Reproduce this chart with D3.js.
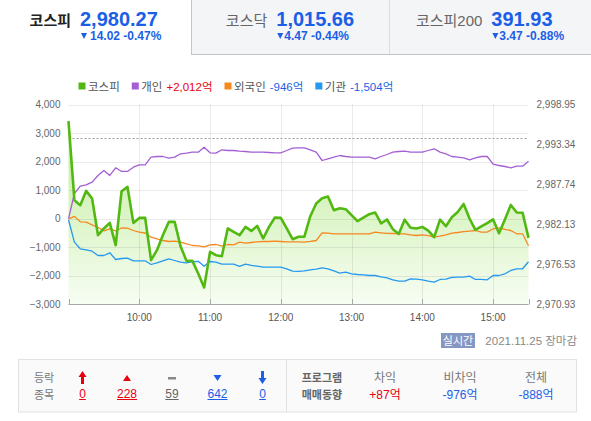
<!doctype html>
<html>
<head>
<meta charset="utf-8">
<title>코스피 투자자별 매매동향</title>
<style>
  body { margin: 0; overflow: hidden; background: #fff; }
  svg { display: block; font-family: "Liberation Sans", Arial, "Noto Sans CJK KR", sans-serif; }
</style>
</head>
<body>
<script src="https://cdn.jsdelivr.net/npm/d3@7"></script>
<script>
const width = 591, height = 421;

// index tabs
const tabNames = ["코스피", "코스닥", "코스피200"];
const tabValues = ["2,980.27", "1,015.66", "391.93"];
const tabChanges = ["14.02 -0.47%", "4.47 -0.44%", "3.47 -0.88%"];

// legend
const seriesNames = ["코스피", "개인", "외국인", "기관"];
const seriesTotals = ["", "+2,012억", "-946억", "-1,504억"];

// 5-minute points from 09:00 to 15:30
const kospi = [2996.61, 2985.54, 2984.84, 2986.85, 2985.78, 2980.64, 2981.58, 2982.36, 2979.24, 2986.80,
  2987.41, 2982.36, 2983.06, 2983.06, 2977.14, 2978.54, 2980.64, 2982.50, 2982.50, 2979.10,
  2977.04, 2977.04, 2975.28, 2973.31, 2978.30, 2977.84, 2977.70, 2981.58, 2981.10, 2980.64,
  2981.80, 2981.24, 2981.94, 2980.18, 2981.80, 2983.12, 2983.06, 2981.58, 2980.08, 2980.43,
  2980.43, 2983.30, 2985.08, 2985.82, 2986.06, 2984.14, 2984.42, 2984.28, 2983.44, 2982.60,
  2983.09, 2983.58, 2983.82, 2982.28, 2982.84, 2981.48, 2980.82, 2982.81, 2981.69, 2981.58,
  2981.80, 2981.27, 2980.36, 2982.81, 2981.90, 2983.16, 2983.90, 2985.02, 2982.98, 2981.38,
  2981.86, 2982.32, 2982.85, 2980.92, 2982.85, 2984.88, 2983.82, 2983.79, 2980.27];

const personal = [0, 885, 1141, 1190, 1281, 1516, 1691, 1516, 1785, 1656,
  1656, 1807, 1890, 1890, 2156, 2180, 2180, 2121, 2156, 2275,
  2296, 2331, 2331, 2506, 2310, 2296, 2415, 2390, 2390, 2366,
  2355, 2331, 2331, 2331, 2320, 2310, 2310, 2390, 2475, 2485,
  2485, 2415, 2331, 2040, 2100, 2156, 2215, 2180, 2156, 2156,
  2156, 2156, 2100, 2180, 2250, 2331, 2355, 2366, 2331, 2331,
  2331, 2390, 2450, 2331, 2275, 2180, 2156, 2135, 2065, 2135,
  2180, 2180, 1910, 1865, 1830, 1785, 1841, 1841, 2012];

const foreign = [0, 85, -105, -119, -210, -305, -420, -350, -420, -322,
  -329, -410, -469, -497, -644, -700, -760, -795, -784, -819,
  -875, -935, -945, -980, -910, -900, -959, -900, -910, -819,
  -854, -830, -805, -795, -795, -784, -795, -805, -805, -810,
  -815, -790, -760, -490, -504, -525, -525, -525, -525, -525,
  -525, -525, -469, -490, -510, -515, -525, -525, -560, -585,
  -560, -590, -644, -609, -560, -504, -480, -450, -430, -410,
  -469, -469, -350, -315, -374, -410, -525, -525, -946];

const institution = [-35, -819, -1050, -1085, -1134, -1285, -1285, -1190, -1425, -1390,
  -1379, -1470, -1470, -1470, -1600, -1540, -1470, -1400, -1460, -1519,
  -1540, -1500, -1490, -1665, -1495, -1519, -1590, -1590, -1590, -1665,
  -1590, -1634, -1659, -1690, -1690, -1690, -1690, -1750, -1830, -1840,
  -1820, -1785, -1760, -1715, -1750, -1820, -1900, -1869, -1925, -1950,
  -1960, -1985, -1985, -2030, -2065, -2140, -2184, -2184, -2105, -2114,
  -2135, -2184, -2219, -2124, -2114, -2054, -2044, -2044, -2009, -2124,
  -2124, -2135, -1985, -1985, -1925, -1809, -1750, -1750, -1504];

const prevClose = 2994.29;
const stepMinutes = 5;
const hourLabels = ["10:00", "11:00", "12:00", "13:00", "14:00", "15:00"];
const leftTicks = [4000, 3000, 2000, 1000, 0, -1000, -2000, -3000];
const rightTickLabels = ["2,998.95", "2,993.34", "2,987.74", "2,982.13", "2,976.53", "2,970.93"];

// bottom table
const breadthCounts = ["0", "228", "59", "642", "0"];
const programHeads = ["차익", "비차익", "전체"];
const programValues = ["+87억", "-976억", "-888억"];

const RED = "#e8000f", BLUE = "#1b5fe6";
const colors = ["#52b812", "#a35fd3", "#f6881f", "#2499ef"];

const svg = d3.select("body").append("svg")
    .attr("width", width)
    .attr("height", height);

// ---- tabs ----
const tabEdges = [0, 191, 389, 591];
const tabs = svg.append("g");
tabNames.forEach((name, i) => {
  const x0 = tabEdges[i], x1 = tabEdges[i + 1];
  const active = i === 0;
  const g = tabs.append("g");
  if (!active) {
    g.append("rect").attr("x", x0).attr("y", 0).attr("width", x1 - x0).attr("height", 54)
      .attr("fill", "#f4f5f7");
  }
  const label = g.append("text").attr("y", 26).attr("font-size", 15)
    .attr("font-weight", active ? "bold" : "normal")
    .attr("fill", active ? "#222" : "#666")
    .text(name);
  const val = g.append("text").attr("y", 26).attr("font-size", 20).attr("font-weight", "bold")
    .attr("fill", BLUE).text(tabValues[i]);
  const sub = g.append("text").attr("y", 40).attr("font-size", 12).attr("font-weight", "bold")
    .attr("fill", BLUE).text(tabChanges[i]);
  const lw = label.node().getComputedTextLength();
  const vw = val.node().getComputedTextLength();
  const sw = sub.node().getComputedTextLength() + (active ? 10 : 8);
  const cw = lw + 9 + Math.max(vw, sw);
  const lx = (x0 + x1) / 2 - cw / 2;
  const vx = lx + lw + 9;
  label.attr("x", lx);
  val.attr("x", vx);
  g.append("path")
    .attr("d", `M${vx + 1},33 h6 l-3,6 z`)
    .attr("fill", BLUE);
  sub.attr("x", vx + (active ? 10 : 8));
});
tabs.append("line").attr("x1", 191.5).attr("x2", 191.5).attr("y1", 0).attr("y2", 54)
  .attr("stroke", "#c4c4c4");
tabs.append("line").attr("x1", 389.5).attr("x2", 389.5).attr("y1", 0).attr("y2", 54)
  .attr("stroke", "#dcdcdc");
tabs.append("line").attr("x1", 191).attr("x2", 591).attr("y1", 54.5).attr("y2", 54.5)
  .attr("stroke", "#c4c4c4");

// ---- scales ----
const x = d3.scaleLinear().domain([0, 390]).range([68.5, 528.5]);
const yL = d3.scaleLinear().domain([-3000, 4000]).range([304.5, 104.5]);
const yR = d3.scaleLinear().domain([2970.93, 2998.95]).range([304.5, 104.5]);
const px = (d, i) => x(i * stepMinutes);
const hourMin = s => (+s.split(":")[0] - 9) * 60;

// ---- gradient ----
const grad = svg.append("defs").append("linearGradient")
  .attr("id", "kospiFill").attr("gradientUnits", "userSpaceOnUse")
  .attr("x1", 0).attr("x2", 0).attr("y1", yL(4000)).attr("y2", yL(-3000));
grad.append("stop").attr("offset", "0%").attr("stop-color", "#bbeb92");
grad.append("stop").attr("offset", "100%").attr("stop-color", "#f7fdf3");

const plot = svg.append("g");

plot.append("path")
  .datum(kospi)
  .attr("fill", "url(#kospiFill)")
  .attr("d", d3.area().x(px).y0(yL(-3000)).y1(d => yR(d)));

// grid
plot.append("g").selectAll("line").data(leftTicks.slice(0, -1)).join("line")
  .attr("x1", x(0)).attr("x2", x(390))
  .attr("y1", d => Math.round(yL(d)) + 0.5).attr("y2", d => Math.round(yL(d)) + 0.5)
  .attr("stroke", "rgba(0,0,0,0.08)");
plot.append("g").selectAll("line").data(hourLabels).join("line")
  .attr("x1", d => Math.round(x(hourMin(d))) + 0.5).attr("x2", d => Math.round(x(hourMin(d))) + 0.5)
  .attr("y1", yL(4000)).attr("y2", yL(-3000))
  .attr("stroke", "rgba(0,0,0,0.08)");

// previous close
plot.append("line")
  .attr("x1", x(0)).attr("x2", x(390))
  .attr("y1", Math.round(yR(prevClose)) + 0.5).attr("y2", Math.round(yR(prevClose)) + 0.5)
  .attr("stroke", "#a0a0a0").attr("stroke-dasharray", "2,2");

// bottom axis
plot.append("line").attr("x1", x(0)).attr("x2", x(390))
  .attr("y1", 304.5).attr("y2", 304.5).attr("stroke", "#a8a8a8");
plot.append("g").selectAll("line").data([0, ...hourLabels.map(hourMin), 390]).join("line")
  .attr("x1", d => Math.round(x(d)) + 0.5).attr("x2", d => Math.round(x(d)) + 0.5)
  .attr("y1", 299).attr("y2", 304.5).attr("stroke", "#a8a8a8");

// axis labels
plot.append("g").selectAll("text").data(leftTicks).join("text")
  .attr("x", 60.5).attr("y", d => yL(d) + 3.5)
  .attr("text-anchor", "end").attr("font-size", 10).attr("fill", "#666")
  .text(d => d3.format(",")(d));
plot.append("g").selectAll("text").data(rightTickLabels).join("text")
  .attr("x", 536.5).attr("y", d => yR(+d.replace(",", "")) + 3.5)
  .attr("font-size", 10).attr("fill", "#666")
  .text(d => d);
plot.append("g").selectAll("text").data(hourLabels).join("text")
  .attr("x", d => x(hourMin(d))).attr("y", 321)
  .attr("text-anchor", "middle").attr("font-size", 10).attr("fill", "#555")
  .text(d => d);

// investor lines
[personal, foreign, institution].forEach((s, k) => {
  plot.append("path").datum(s)
    .attr("fill", "none").attr("stroke", colors[k + 1]).attr("stroke-width", 1.3)
    .attr("stroke-linejoin", "round")
    .attr("d", d3.line().x(px).y(d => yL(d)));
});
plot.append("path").datum(kospi)
  .attr("fill", "none").attr("stroke", colors[0]).attr("stroke-width", 2.6)
  .attr("stroke-linejoin", "round")
  .attr("d", d3.line().x(px).y(d => yR(d)));

// ---- legend ----
const legend = svg.append("g").attr("font-size", 11.5);
let lx = 78.5;
seriesNames.forEach((name, i) => {
  legend.append("rect").attr("x", lx).attr("y", 82.5).attr("width", 7).attr("height", 7)
    .attr("fill", colors[i]);
  const t = legend.append("text").attr("x", lx + 9.5).attr("y", 90.5).attr("fill", "#555").text(name);
  lx += 9.5 + t.node().getComputedTextLength();
  if (seriesTotals[i]) {
    const v = legend.append("text").attr("x", lx + 4).attr("y", 90.5)
      .attr("fill", seriesTotals[i][0] === "+" ? RED : BLUE).text(seriesTotals[i]);
    lx += 4 + v.node().getComputedTextLength();
  }
  lx += 12;
});

// ---- status ----
svg.append("rect").attr("x", 441).attr("y", 333).attr("width", 34).attr("height", 15)
  .attr("fill", "#8797c3");
svg.append("text").attr("x", 458).attr("y", 344.5).attr("text-anchor", "middle")
  .attr("font-size", 11).attr("fill", "#fff").text("실시간");
svg.append("text").attr("x", 577).attr("y", 345).attr("text-anchor", "end")
  .attr("font-size", 11.5).attr("fill", "#888").text("2021.11.25 장마감");

// ---- bottom table ----
const tbl = svg.append("g").attr("font-size", 12);
tbl.append("rect").attr("x", 18.5).attr("y", 359.5).attr("width", 558).attr("height", 52.5)
  .attr("fill", "#fafafa").attr("stroke", "#e2e2e2");
tbl.append("line").attr("x1", 286.5).attr("x2", 286.5).attr("y1", 360).attr("y2", 412)
  .attr("stroke", "#e2e2e2");
tbl.append("text").attr("x", 44).attr("y", 382).attr("text-anchor", "middle")
  .attr("font-size", 11).attr("fill", "#777").text("등락");
tbl.append("text").attr("x", 44).attr("y", 399).attr("text-anchor", "middle")
  .attr("font-size", 11).attr("fill", "#777").text("종목");

const bx = [82.5, 127, 172, 217.5, 262.5];
const bColors = [RED, RED, "#888", BLUE, BLUE];
const icons = [
  c => `M${c - 4},377 L${c},371 L${c + 4},377 H${c + 1.5} V384 H${c - 1.5} V377 Z`,
  c => `M${c - 4},381 L${c},375 L${c + 4},381 Z`,
  c => `M${c - 4},377 H${c + 4} V379.5 H${c - 4} Z`,
  c => `M${c - 4},375 L${c},381 L${c + 4},375 Z`,
  c => `M${c - 1.5},371 H${c + 1.5} V378 H${c + 4} L${c},384 L${c - 4},378 H${c - 1.5} Z`
];
breadthCounts.forEach((v, i) => {
  tbl.append("path").attr("d", icons[i](bx[i])).attr("fill", bColors[i]);
  const t = tbl.append("text").attr("x", bx[i]).attr("y", 398).attr("text-anchor", "middle")
    .attr("fill", bColors[i] === "#888" ? "#666" : bColors[i]).text(v);
  const w = t.node().getComputedTextLength();
  tbl.append("line").attr("x1", bx[i] - w / 2).attr("x2", bx[i] + w / 2)
    .attr("y1", 399.5).attr("y2", 399.5).attr("stroke", bColors[i] === "#888" ? "#666" : bColors[i]);
});

tbl.append("text").attr("x", 322).attr("y", 382).attr("text-anchor", "middle")
  .attr("font-size", 11).attr("font-weight", "bold").attr("fill", "#666").text("프로그램");
tbl.append("text").attr("x", 322).attr("y", 399).attr("text-anchor", "middle")
  .attr("font-size", 11).attr("font-weight", "bold").attr("fill", "#666").text("매매동향");
const px2 = [385, 460, 536];
programHeads.forEach((h, i) => {
  tbl.append("text").attr("x", px2[i]).attr("y", 382).attr("text-anchor", "middle")
    .attr("fill", "#777").text(h);
  tbl.append("text").attr("x", px2[i]).attr("y", 399).attr("text-anchor", "middle")
    .attr("fill", programValues[i][0] === "+" ? RED : BLUE).text(programValues[i]);
});
</script>
</body>
</html>
